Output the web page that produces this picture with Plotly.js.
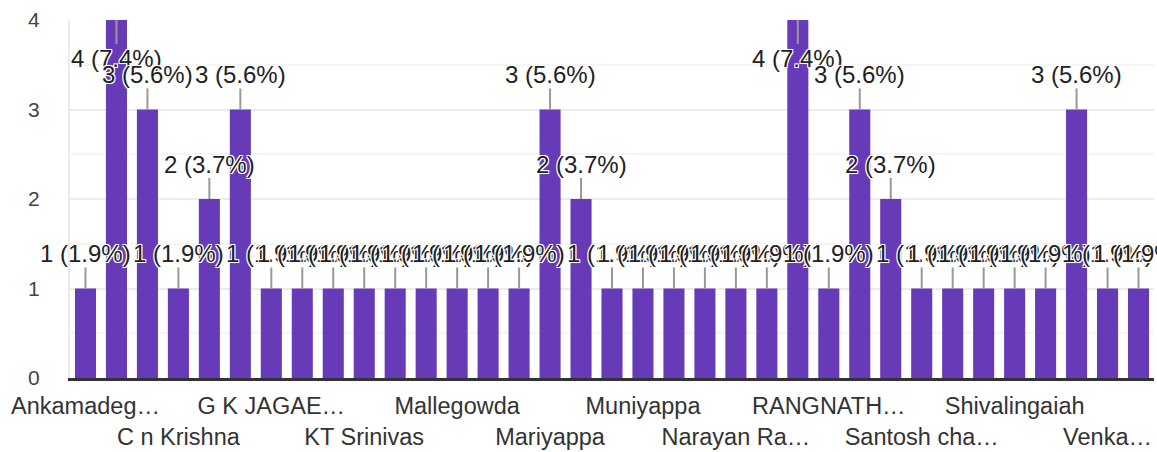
<!DOCTYPE html>
<html lang="en">
<head>
  <meta charset="UTF-8">
  <title>Responses by name</title>
  <script src="https://cdn.plot.ly/plotly-3.0.1.min.js"></script>
  <style>
    body { margin: 0; background: #fff; }
    #chart { width: 1157px; height: 452px; }
  </style>
</head>
<body>
  <div id="chart"></div>
  <script>
    // one bar per name, sorted as in the form summary
    const names = [
      "Ankamadegowda", "Basavaraju", "Boregowda", "C n Krishna", "Chandrappa", "Devaraju",
      "G K JAGAENDRA", "Gangadhar", "Hanumanthappa", "KT Srinivas", "Krishnappa", "Lakshmaiah",
      "Mallegowda", "Manjunatha", "Mariswamy", "Mariyappa", "Mohan Kumar", "Muniraju",
      "Muniyappa", "Nagaraju", "Nanjundappa", "Narayan Rao", "Narayanaswamy", "Puttaswamy",
      "RANGNATHA", "Ramesh", "Ravi Kumar", "Santosh chandra", "Shankarappa", "Shivakumar",
      "Shivalingaiah", "Srinivasa", "Thimmaiah", "Venkatesh", "Yogesh"
    ];
    const counts = [
      1, 4, 3, 1, 2, 3, 1, 1, 1, 1, 1, 1,
      1, 1, 1, 3, 2, 1, 1, 1, 1, 1, 1, 4,
      1, 3, 2, 1, 1, 1, 1, 1, 3, 1, 1
    ];
    // only every third name gets a (truncated) label
    const tickIdx = [0, 3, 6, 9, 12, 15, 18, 21, 24, 27, 30, 33];
    const tickLabels = [
      "Ankamadeg…", "C n Krishna", "G K JAGAE…", "KT Srinivas", "Mallegowda", "Mariyappa",
      "Muniyappa", "Narayan Ra…", "RANGNATH…", "Santosh cha…", "Shivalingaiah", "Venka…"
    ];

    const yMax = 4;
    const total = counts.reduce((a, b) => a + b, 0);
    const font = "Liberation Sans, Arial, sans-serif";
    const halo = "-1px -1px 0 #fff, 1px -1px 0 #fff, -1px 1px 0 #fff, 1px 1px 0 #fff, 0 0 2px #fff";

    const trace = {
      type: "bar",
      x: names,
      y: counts,
      marker: { color: "#673ab7" },
      hoverinfo: "none"
    };

    const annotations = counts.map((v, i) => ({
      x: names[i],
      y: v,
      xref: "x",
      yref: "y",
      text: v + " (" + (v / total * 100).toFixed(1) + "%)",
      showarrow: true,
      arrowhead: 0,
      arrowwidth: 2,
      arrowcolor: "#999",
      ax: 0,
      ay: v >= yMax ? 38 : -35,
      borderpad: 0,
      font: { family: font, size: 24, color: "#222", shadow: halo }
    }));

    const layout = {
      width: 1157,
      height: 452,
      margin: { l: 70, r: 3, t: 20, b: 74 },
      paper_bgcolor: "#fff",
      plot_bgcolor: "#fff",
      showlegend: false,
      bargap: 0.32,
      font: { family: font, color: "#333" },
      xaxis: {
        type: "category",
        range: [-0.5, names.length - 0.5],
        tickmode: "array",
        tickvals: tickIdx.map(i => names[i]),
        ticktext: tickLabels.map((t, k) => (k % 2 ? "<br>" + t : t)),
        tickangle: 0,
        tickfont: { size: 23.5, color: "#333" },
        ticklabelstandoff: 5,
        ticks: "",
        showgrid: false,
        showline: true,
        linecolor: "#333",
        linewidth: 3,
        automargin: false
      },
      yaxis: {
        range: [0, yMax],
        dtick: 1,
        tickfont: { size: 21, color: "#444" },
        ticklabelstandoff: 24,
        ticks: "",
        gridcolor: "#ebebeb",
        gridwidth: 2,
        minor: { dtick: 0.5, showgrid: true, gridcolor: "#f5f5f5", gridwidth: 2 },
        zeroline: false,
        showline: true,
        linecolor: "#ebebeb",
        linewidth: 2,
        automargin: false
      },
      annotations: annotations
    };

    Plotly.newPlot("chart", [trace], layout, { displayModeBar: false, staticPlot: true });
  </script>
</body>
</html>
